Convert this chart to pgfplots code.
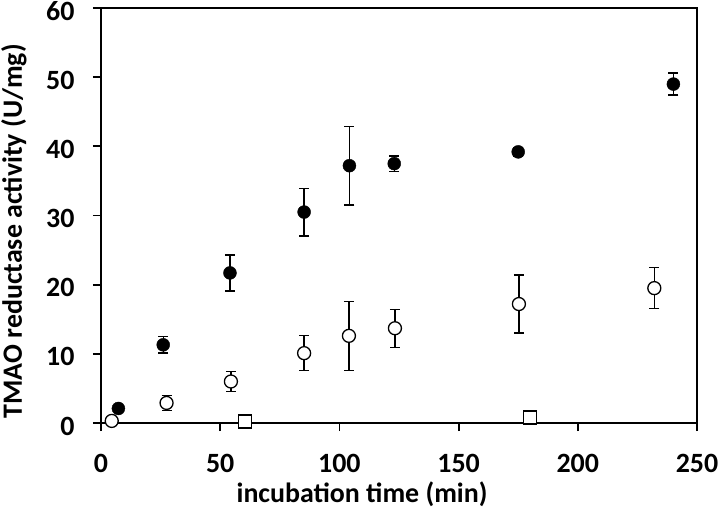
\documentclass[border=0pt]{standalone}
\usepackage{fontspec}
\setmainfont{Carlito}
\usepackage{pgfplots}
\pgfplotsset{compat=1.18}
\begin{document}
\begin{tikzpicture}
\useasboundingbox (-101bp,-92bp) rectangle (619bp,423bp);
\begin{axis}[
 at={(0,0)}, anchor=south west,
 scale only axis, width=596bp, height=415bp,
 xmin=0, xmax=250, ymin=0, ymax=60,
 xtick={0,50,...,250}, ytick={0,10,...,60},
 axis line style={line width=1.8bp},
 tick style={line width=1.8bp, black},
 major tick length=8bp,
 tick align=outside,
 xtick pos=bottom, ytick pos=left,
 /pgf/number format/assume math mode=true,
 tick label style={font=\fontsize{28}{30}\selectfont\bfseries},
 yticklabel style={xshift=-15bp, yshift=-3bp},
 xticklabel style={yshift=-20bp},
 label style={font=\fontsize{28}{30}\selectfont\bfseries},
 xlabel={incubation time (min)},
 ylabel={TMAO reductase activity (U/mg)},
 xlabel style={at={(axis description cs:0.438,0)}, anchor=base, yshift=-79bp},
 ylabel style={at={(axis description cs:-0.146,0.462)}, anchor=center},
 clip=false,
]
\addplot[only marks, mark=*, mark size=6.5bp, black, mark options={fill=black, draw=black},
 error bars/.cd, y dir=both, y explicit,
 error bar style={line width=1.3bp, black},
 error mark options={black, line width=1.3bp, mark size=5bp, rotate=90}]
 coordinates {
 (7.3,2.1) +- (0,0)
 (26.1,11.3) +- (0,1.2)
 (54.1,21.7) +- (0,2.6)
 (85.2,30.5) +- (0,3.45)
 (104.2,37.2) +- (0,5.7)
 (123.0,37.5) +- (0,1.1)
 (175.0,39.2) +- (0,0.6)
 (240.1,49.0) +- (0,1.6)
 };
\addplot[only marks, mark=*, mark size=6.5bp, black, mark options={fill=white, draw=black, line width=1.3bp},
 error bars/.cd, y dir=both, y explicit,
 error bar style={line width=1.3bp, black},
 error mark options={black, line width=1.3bp, mark size=5bp, rotate=90}]
 coordinates {
 (4.5,0.3) +- (0,0)
 (27.5,2.9) +- (0,1.1)
 (54.5,6.0) +- (0,1.45)
 (85.2,10.1) +- (0,2.55)
 (104.0,12.6) +- (0,5.0)
 (123.3,13.7) +- (0,2.75)
 (175.3,17.2) +- (0,4.2)
 (232.1,19.5) +- (0,2.95)
 };
\addplot[only marks, mark=square*, mark size=6.5bp, black, mark options={fill=white, draw=black, line width=1.3bp}]
 coordinates {
 (60.4,0.2)
 (180.0,0.8)
 };
\end{axis}
\end{tikzpicture}
\end{document}
